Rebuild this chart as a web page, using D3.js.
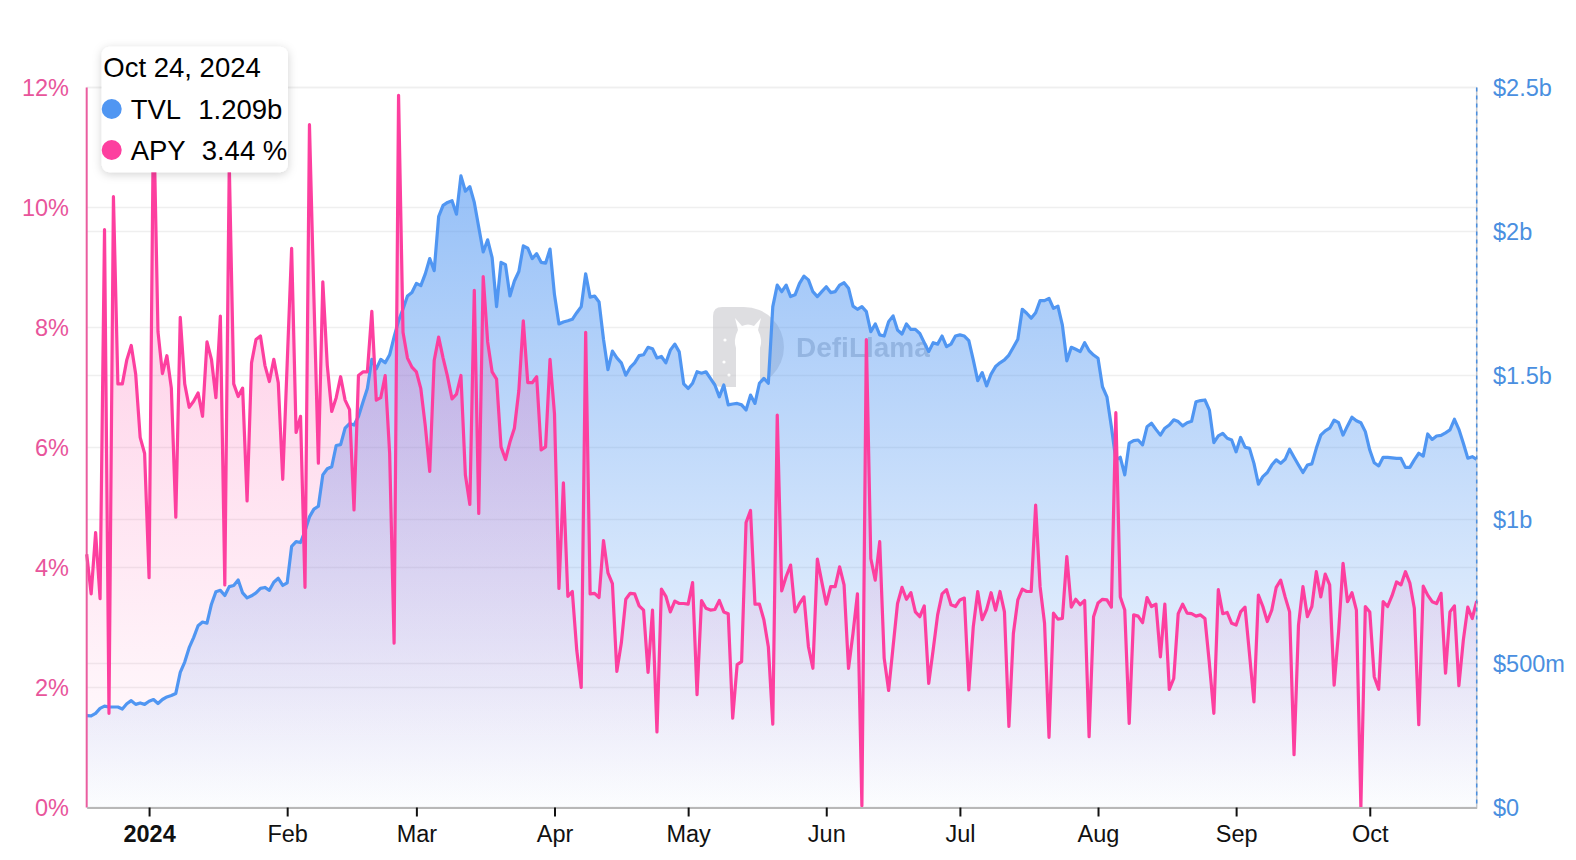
<!DOCTYPE html>
<html>
<head>
<meta charset="utf-8">
<script src="https://cdn.jsdelivr.net/npm/d3@7/dist/d3.min.js"></script>
<style>
  body { margin: 0; background: #ffffff; }
  #chart svg { font-family: "Liberation Sans", Arial, Helvetica, sans-serif; display: block; }
</style>
</head>
<body>
<div id="chart"></div>
<script>
// daily points, first one is Dec 18 2023
const startDate = "2023-12-18";

// TVL in billions of dollars
const tvl = [
  0.319, 0.318, 0.327, 0.344, 0.352, 0.349, 0.349, 0.349, 0.342, 0.360,
  0.371, 0.358, 0.363, 0.358, 0.369, 0.375, 0.361, 0.375, 0.384, 0.389,
  0.396, 0.469, 0.505, 0.555, 0.590, 0.631, 0.644, 0.640, 0.706, 0.749,
  0.754, 0.736, 0.767, 0.771, 0.790, 0.745, 0.728, 0.735, 0.745, 0.761,
  0.764, 0.754, 0.782, 0.796, 0.771,
  0.780, 0.907, 0.923, 0.920, 0.960, 1.009, 1.036, 1.046, 1.155, 1.176,
  1.183, 1.257, 1.260, 1.317, 1.333, 1.328, 1.358, 1.407, 1.455, 1.556,
  1.523, 1.556, 1.544, 1.572, 1.634, 1.690, 1.731, 1.776, 1.788, 1.820,
  1.812, 1.853, 1.906, 1.864, 2.052, 2.091, 2.101, 2.107, 2.060, 2.193,
  2.140, 2.156, 2.101, 2.015, 1.929,
  1.971, 1.909, 1.739, 1.893, 1.885, 1.776, 1.828, 1.861, 1.950, 1.942,
  1.906, 1.923, 1.893, 1.890, 1.939, 1.780, 1.679, 1.686, 1.690, 1.695,
  1.718, 1.739, 1.853, 1.772, 1.776, 1.755, 1.626, 1.520, 1.585, 1.561,
  1.544, 1.501, 1.528, 1.544, 1.569, 1.572, 1.598, 1.593, 1.561, 1.566,
  1.544, 1.588, 1.609, 1.582, 1.471,
  1.455, 1.473, 1.513, 1.508, 1.513, 1.490, 1.467, 1.426, 1.467, 1.398,
  1.401, 1.403, 1.398, 1.380, 1.432, 1.403, 1.473, 1.490, 1.473, 1.739,
  1.814, 1.791, 1.814, 1.774, 1.780, 1.820, 1.845, 1.832, 1.791, 1.774,
  1.791, 1.808, 1.788, 1.791, 1.814, 1.822, 1.803,
  1.741, 1.730, 1.739, 1.722, 1.652, 1.679, 1.641, 1.637, 1.687, 1.707,
  1.658, 1.644, 1.679, 1.660, 1.660, 1.646, 1.614, 1.583, 1.614, 1.609,
  1.637, 1.600, 1.609, 1.637, 1.641, 1.637, 1.621, 1.554, 1.482, 1.510,
  1.464, 1.505, 1.531, 1.544, 1.554, 1.571, 1.598, 1.626, 1.730, 1.716,
  1.699, 1.718, 1.760, 1.760, 1.768, 1.733, 1.741, 1.675, 1.551, 1.598,
  1.591, 1.583, 1.614, 1.586, 1.571, 1.560, 1.461, 1.426, 1.322, 1.207,
  1.216, 1.155, 1.265, 1.274, 1.276, 1.259, 1.322, 1.334, 1.313, 1.293,
  1.317, 1.328, 1.346, 1.340,
  1.325, 1.336, 1.341, 1.409, 1.413, 1.415, 1.380, 1.267, 1.290, 1.299,
  1.282, 1.276, 1.235, 1.285, 1.251, 1.247, 1.195, 1.123, 1.149, 1.163,
  1.189, 1.207, 1.195, 1.209, 1.244, 1.216, 1.189, 1.163, 1.189, 1.193,
  1.247, 1.293, 1.308, 1.317, 1.345, 1.336, 1.293, 1.325, 1.355, 1.343,
  1.336, 1.305, 1.241, 1.197, 1.186, 1.216, 1.216, 1.214, 1.212, 1.212,
  1.181, 1.181, 1.207, 1.230, 1.220, 1.297, 1.278, 1.290, 1.292, 1.301,
  1.311, 1.348, 1.313, 1.265, 1.213, 1.218, 1.209
];

// APY in percent
const apy = [
  4.22, 3.56, 4.58, 3.48, 9.63, 1.57, 10.18, 7.06, 7.06, 7.46,
  7.70, 7.22, 6.17, 5.90, 3.83, 11.66, 7.93, 7.23, 7.53, 6.99,
  4.84, 8.17, 7.06, 6.67, 6.77, 6.91, 6.52, 7.76, 7.47, 6.83,
  8.19, 3.71, 10.72, 7.06, 6.85, 6.99, 5.11, 7.41, 7.80, 7.86,
  7.37, 7.10, 7.47, 7.08, 5.47,
  7.40, 9.32, 6.25, 6.52, 3.67, 11.38, 8.50, 5.74, 8.76, 7.37,
  6.60, 6.83, 7.18, 6.79, 6.63, 4.96, 7.20, 7.26, 7.26, 8.27,
  6.79, 6.83, 7.20, 5.90, 2.74, 11.87, 7.92, 7.49, 7.34, 7.26,
  6.98, 6.36, 5.60, 7.45, 7.84, 7.49, 7.18, 6.81, 6.89, 7.20,
  5.54, 5.05, 8.62, 4.90, 8.85,
  7.76, 7.26, 7.14, 6.01, 5.80, 6.09, 6.32, 6.95, 8.11, 7.08,
  7.08, 7.18, 5.96, 6.01, 7.47, 6.56, 3.65, 5.41, 3.52, 3.60,
  2.62, 2.00, 7.92, 3.56, 3.57, 3.50, 4.45, 3.91, 3.73, 2.27,
  2.74, 3.47, 3.57, 3.56, 3.36, 3.29, 2.25, 3.29, 1.26, 3.64,
  3.52, 3.26, 3.44, 3.40, 3.40,
  3.39, 3.75, 1.88, 3.45, 3.32, 3.29, 3.30, 3.45, 3.26, 3.23,
  1.49, 2.38, 2.43, 4.75, 4.95, 3.39, 3.39, 3.13, 2.68, 1.39,
  6.54, 3.61, 3.85, 4.04, 3.26, 3.40, 3.51, 2.68, 2.32, 4.14,
  3.76, 3.39, 3.68, 3.68, 4.01, 3.71, 2.32,
  2.90, 3.56, 0.03, 7.80, 4.15, 3.79, 4.43, 2.49, 1.95, 2.68,
  3.40, 3.67, 3.47, 3.58, 3.26, 3.18, 3.36, 2.07, 2.63, 3.21,
  3.56, 3.63, 3.38, 3.35, 3.46, 3.49, 1.96, 3.01, 3.60, 3.13,
  3.30, 3.58, 3.29, 3.60, 3.26, 1.35, 2.90, 3.46, 3.64, 3.60,
  3.60, 5.04, 3.68, 3.07, 1.17, 3.24, 3.14, 3.15, 4.18, 3.34,
  3.47, 3.38, 3.45, 1.18, 3.18, 3.41, 3.47, 3.46, 3.34, 6.58,
  3.51, 3.29, 1.40, 3.21, 3.19, 3.08, 3.50, 3.35, 3.39, 2.51,
  3.39, 1.97, 2.15, 3.23, 3.39, 3.24, 3.23, 3.19, 3.21, 3.15,
  2.40, 1.57, 3.63,
  3.23, 3.25, 3.07, 3.04, 3.26, 3.34, 2.56, 1.76, 3.54, 3.35,
  3.10, 3.29, 3.67, 3.79, 3.51, 3.26, 0.88, 3.04, 3.68, 3.18,
  3.35, 3.93, 3.51, 3.89, 3.71, 2.04, 2.93, 4.07, 3.43, 3.58,
  3.29, 0.01, 3.35, 3.26, 2.18, 1.97, 3.43, 3.35, 3.53, 3.76,
  3.71, 3.93, 3.74, 3.32, 1.38, 3.69, 3.54, 3.43, 3.40, 3.57,
  2.24, 3.26, 3.36, 2.03, 2.79, 3.34, 3.15, 3.44
];

const apyTicks = [0, 2, 4, 6, 8, 10, 12];
const tvlTicks = [0, 0.5, 1, 1.5, 2, 2.5];
const tvlTickLabels = ["$0", "$500m", "$1b", "$1.5b", "$2b", "$2.5b"];
const monthTicks = ["2024-01-01", "2024-02-01", "2024-03-01", "2024-04-01", "2024-05-01",
  "2024-06-01", "2024-07-01", "2024-08-01", "2024-09-01", "2024-10-01"];
const monthLabels = ["2024", "Feb", "Mar", "Apr", "May", "Jun", "Jul", "Aug", "Sep", "Oct"];
const tooltipDate = "Oct 24, 2024";

loadVisualizations = () => {
  const width = 1576, height = 860;
  const left = 86.7, right = 1476.7, top = 87.5, bottom = 807.5;

  const tvlColor = "#5096f2";
  const apyColor = "#fd3f9f";

  const parse = d3.utcParse("%Y-%m-%d");
  const t0 = parse(startDate);
  const data = tvl.map((v, i) => ({
    date: d3.utcDay.offset(t0, i),
    tvl: v,
    apy: apy[i]
  }));

  const x = d3.scaleUtc()
    .domain(d3.extent(data, (d) => d.date))
    .range([left, right]);
  const yApy = d3.scaleLinear().domain([0, 12]).range([bottom, top]);
  const yTvl = d3.scaleLinear().domain([0, 2.5]).range([bottom, top]);

  let svg = d3
    .select("#chart")
    .append("svg")
    .attr("width", width)
    .attr("height", height);

  let defs = svg.append("defs");

  let tvlGrad = defs.append("linearGradient")
    .attr("id", "tvlGrad")
    .attr("x1", "0").attr("y1", "0").attr("x2", "0").attr("y2", "1");
  tvlGrad.append("stop").attr("offset", "0%").attr("stop-color", tvlColor).attr("stop-opacity", 0.6);
  tvlGrad.append("stop").attr("offset", "100%").attr("stop-color", tvlColor).attr("stop-opacity", 0.02);

  let apyGrad = defs.append("linearGradient")
    .attr("id", "apyGrad")
    .attr("x1", "0").attr("y1", "0").attr("x2", "0").attr("y2", "1");
  apyGrad.append("stop").attr("offset", "0%").attr("stop-color", apyColor).attr("stop-opacity", 0.33);
  apyGrad.append("stop").attr("offset", "100%").attr("stop-color", apyColor).attr("stop-opacity", 0.0);

  let shadow = defs.append("filter")
    .attr("id", "tipShadow")
    .attr("x", "-20%").attr("y", "-20%").attr("width", "140%").attr("height", "150%");
  shadow.append("feDropShadow")
    .attr("dx", 0).attr("dy", 2)
    .attr("stdDeviation", 5)
    .attr("flood-color", "#000")
    .attr("flood-opacity", 0.18);

  // grid lines for both axes
  let grid = svg.append("g");
  grid.selectAll(".gApy")
    .data(apyTicks)
    .join("line")
    .attr("x1", left).attr("x2", right)
    .attr("y1", (d) => yApy(d)).attr("y2", (d) => yApy(d))
    .attr("stroke", "#efefef")
    .attr("stroke-width", 1.5);
  grid.selectAll(".gTvl")
    .data(tvlTicks)
    .join("line")
    .attr("x1", left).attr("x2", right)
    .attr("y1", (d) => yTvl(d)).attr("y2", (d) => yTvl(d))
    .attr("stroke", "#efefef")
    .attr("stroke-width", 1.5);

  // watermark
  let wm = svg.append("g").attr("opacity", 0.6);
  wm.append("path")
    .attr("d", "M713,316 Q713,307 722,307 H744 A40,40 0 0 1 744,387 H722 Q713,387 713,378 Z")
    .attr("fill", "#c9c9ce");
  wm.append("path")
    .attr("d", "M736,387 V348 Q733,340 738,330 L735,318 L742,326 Q748,323 754,326 L761,318 L758,330 Q763,340 760,348 V387 Z")
    .attr("fill", "#ffffff");
  wm.append("circle").attr("cx", 725).attr("cy", 340).attr("r", 1.6).attr("fill", "#fff");
  wm.append("circle").attr("cx", 724).attr("cy", 362).attr("r", 1.6).attr("fill", "#fff");
  wm.append("circle").attr("cx", 729).attr("cy", 375).attr("r", 1.6).attr("fill", "#fff");
  wm.append("text")
    .attr("x", 796)
    .attr("y", 357)
    .attr("font-size", "28px")
    .attr("font-weight", "bold")
    .attr("fill", "#a6adb8")
    .text("DefiLlama");

  let area = (yScale, key) => d3.area()
    .x((d) => x(d.date))
    .y0(bottom)
    .y1((d) => yScale(d[key]));
  let line = (yScale, key) => d3.line()
    .x((d) => x(d.date))
    .y((d) => yScale(d[key]));

  svg.append("path")
    .datum(data)
    .attr("d", area(yTvl, "tvl"))
    .attr("fill", "url(#tvlGrad)");
  svg.append("path")
    .datum(data)
    .attr("d", area(yApy, "apy"))
    .attr("fill", "url(#apyGrad)");

  svg.append("path")
    .datum(data)
    .attr("d", line(yTvl, "tvl"))
    .attr("fill", "none")
    .attr("stroke", tvlColor)
    .attr("stroke-width", 3.2)
    .attr("stroke-linejoin", "round");
  svg.append("path")
    .datum(data)
    .attr("d", line(yApy, "apy"))
    .attr("fill", "none")
    .attr("stroke", apyColor)
    .attr("stroke-width", 3.2)
    .attr("stroke-linejoin", "round");

  // left axis line in series colour
  svg.append("line")
    .attr("x1", left).attr("x2", left)
    .attr("y1", top).attr("y2", bottom)
    .attr("stroke", "#ea5d9f")
    .attr("stroke-width", 2);

  // crosshair at the hovered (last) point
  let last = data[data.length - 1];
  svg.append("line")
    .attr("x1", x(last.date)).attr("x2", x(last.date))
    .attr("y1", top).attr("y2", bottom)
    .attr("stroke", "#c3c6cc")
    .attr("stroke-width", 1.5);
  svg.append("line")
    .attr("x1", x(last.date)).attr("x2", x(last.date))
    .attr("y1", top).attr("y2", bottom)
    .attr("stroke", "#4a8fe0")
    .attr("stroke-width", 1.5)
    .attr("stroke-dasharray", "4,4");

  // bottom axis
  let xAxis = d3.axisBottom(x)
    .tickValues(monthTicks.map(parse))
    .tickSize(9)
    .tickSizeOuter(0)
    .tickFormat((d, i) => monthLabels[i]);
  let gx = svg.append("g")
    .attr("transform", "translate(0," + bottom + ")")
    .call(xAxis);
  gx.select(".domain").attr("stroke", "#b8b8b8").attr("stroke-width", 2);
  gx.selectAll(".tick line").attr("stroke", "#111").attr("stroke-width", 2);
  gx.selectAll(".tick text")
    .attr("y", 34)
    .attr("dy", 0)
    .attr("font-size", "23.5px")
    .attr("font-family", "Liberation Sans, Arial, sans-serif")
    .attr("fill", "#111")
    .attr("font-weight", (d, i) => (i == 0 ? "bold" : "normal"));

  // left labels
  svg.append("g")
    .selectAll("text")
    .data(apyTicks)
    .join("text")
    .attr("x", 69)
    .attr("y", (d) => yApy(d))
    .attr("dy", "0.36em")
    .attr("text-anchor", "end")
    .attr("font-size", "23.5px")
    .attr("fill", "#e8559b")
    .text((d) => d + "%");

  // right labels
  svg.append("g")
    .selectAll("text")
    .data(tvlTicks)
    .join("text")
    .attr("x", 1493)
    .attr("y", (d) => yTvl(d))
    .attr("dy", "0.36em")
    .attr("text-anchor", "start")
    .attr("font-size", "23.5px")
    .attr("fill", "#4a8fe0")
    .text((d, i) => tvlTickLabels[i]);

  // tooltip
  let tip = svg.append("g");
  tip.append("rect")
    .attr("x", 101.7).attr("y", 46.7)
    .attr("width", 186.3).attr("height", 125.6)
    .attr("rx", 8)
    .attr("fill", "#ffffff")
    .attr("filter", "url(#tipShadow)");
  tip.append("text")
    .attr("x", 103.3).attr("y", 76.5)
    .attr("font-size", "27.5px")
    .attr("fill", "#000")
    .text(tooltipDate);
  let rows = [
    { name: "TVL", color: tvlColor, value: d3.format(".3f")(last.tvl) + "b", vx: 198.3 },
    { name: "APY", color: apyColor, value: d3.format(".2f")(last.apy) + " %", vx: 201.7 }
  ];
  rows.forEach((r, i) => {
    let cy = 109 + i * 41;
    tip.append("circle").attr("cx", 111.7).attr("cy", cy).attr("r", 10).attr("fill", r.color);
    tip.append("text")
      .attr("x", 130.7).attr("y", cy + 9.5)
      .attr("font-size", "27.5px").attr("fill", "#000")
      .text(r.name);
    tip.append("text")
      .attr("x", r.vx).attr("y", cy + 9.5)
      .attr("font-size", "27.5px").attr("fill", "#000")
      .text(r.value);
  });
};

window.onload = () => {
  loadVisualizations();
};
</script>
</body>
</html>
